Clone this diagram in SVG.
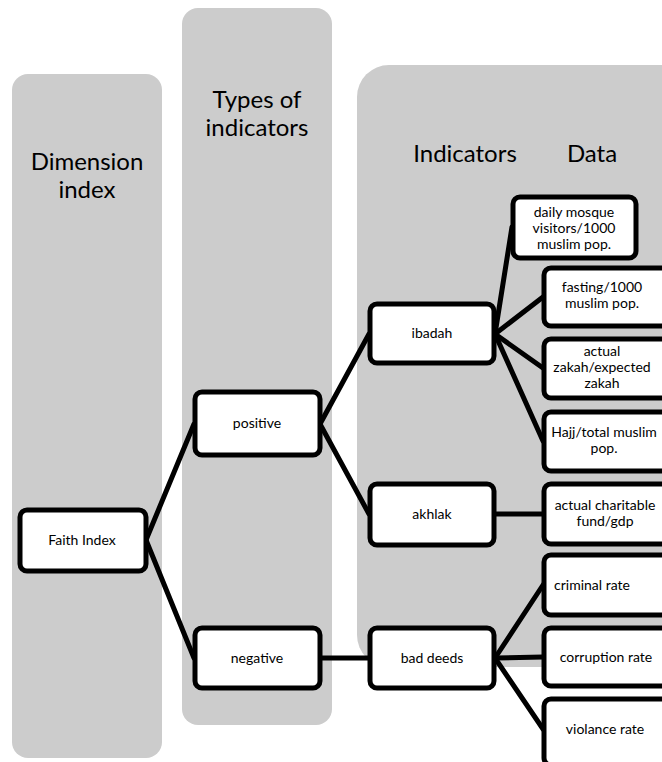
<svg xmlns="http://www.w3.org/2000/svg" width="662" height="762" viewBox="0 0 662 762">
<style>
.col{fill:#cccccc}
.box{fill:#ffffff;stroke:#000000;stroke-width:5}
.big{font-family:Lato,"Liberation Sans",sans-serif;font-size:24px;fill:#000;text-anchor:middle}
.t{font-family:Lato,"Liberation Sans",sans-serif;font-size:14px;fill:#000;text-anchor:middle}
.conn line{stroke:#000;stroke-width:5;stroke-linecap:round}
</style>
<rect width="662" height="762" fill="#ffffff"/>
<g id="col-dimension">
<rect class="col" x="12" y="74" width="150" height="684" rx="16"/>
<text class="big" x="87" y="170">Dimension</text>
<text class="big" x="87" y="198">index</text>
</g>
<g id="col-types">
<rect class="col" x="182" y="8" width="150" height="717" rx="16"/>
<text class="big" x="257" y="108">Types of</text>
<text class="big" x="257" y="136">indicators</text>
</g>
<g id="col-indicators">
<rect class="col" x="357" y="65" width="340" height="602" rx="32"/>
<text class="big" x="465" y="162">Indicators</text>
<text class="big" x="592" y="162">Data</text>
</g>
<g class="conn" id="connectors">
<line x1="146" y1="540" x2="194" y2="424"/>
<line x1="146" y1="540" x2="194" y2="658"/>
<line x1="320" y1="424" x2="369" y2="334"/>
<line x1="320" y1="424" x2="369" y2="514"/>
<line x1="320" y1="658" x2="369" y2="658"/>
<line x1="495" y1="334" x2="512" y2="227"/>
<line x1="495" y1="334" x2="543" y2="297"/>
<line x1="495" y1="334" x2="543" y2="368"/>
<line x1="495" y1="334" x2="543" y2="441"/>
<line x1="495" y1="514" x2="543" y2="514"/>
<line x1="495" y1="658" x2="543" y2="585"/>
<line x1="495" y1="658" x2="543" y2="657"/>
<line x1="495" y1="658" x2="543" y2="729"/>
</g>
<g id="n-faith"><rect class="box" x="20" y="510" width="126" height="61" rx="7"/><text class="t" x="82" y="545">Faith Index</text></g>
<g id="n-positive"><rect class="box" x="195" y="392" width="125" height="63" rx="7"/><text class="t" x="257" y="428">positive</text></g>
<g id="n-negative"><rect class="box" x="195" y="628" width="125" height="60" rx="7"/><text class="t" x="257" y="663">negative</text></g>
<g id="n-ibadah"><rect class="box" x="370" y="304" width="124" height="59" rx="7"/><text class="t" x="432" y="338">ibadah</text></g>
<g id="n-akhlak"><rect class="box" x="370" y="484" width="124" height="61" rx="7"/><text class="t" x="432" y="519">akhlak</text></g>
<g id="n-baddeeds"><rect class="box" x="370" y="628" width="124" height="60" rx="7"/><text class="t" x="432" y="663">bad deeds</text></g>
<g id="n-mosque"><rect class="box" x="513" y="197" width="123" height="61" rx="7"/><text class="t" x="574" y="217">daily mosque</text><text class="t" x="574" y="233">visitors/1000</text><text class="t" x="574" y="249">muslim pop.</text></g>
<g id="n-fasting"><rect class="box" x="544" y="268" width="130" height="58" rx="7"/><text class="t" x="602" y="292">fasting/1000</text><text class="t" x="602" y="308">muslim pop.</text></g>
<g id="n-zakah"><rect class="box" x="544" y="339" width="130" height="59" rx="7"/><text class="t" x="602" y="356">actual</text><text class="t" x="602" y="372">zakah/expected</text><text class="t" x="602" y="388">zakah</text></g>
<g id="n-hajj"><rect class="box" x="544" y="412" width="130" height="59" rx="7"/><text class="t" x="604" y="437">Hajj/total muslim</text><text class="t" x="604" y="453">pop.</text></g>
<g id="n-charitable"><rect class="box" x="544" y="484" width="130" height="60" rx="7"/><text class="t" x="605" y="510">actual charitable</text><text class="t" x="605" y="526">fund/gdp</text></g>
<g id="n-criminal"><rect class="box" x="544" y="555" width="130" height="60" rx="7"/><text class="t" x="592" y="590">criminal rate</text></g>
<g id="n-corruption"><rect class="box" x="544" y="628" width="130" height="58" rx="7"/><text class="t" x="606" y="662">corruption rate</text></g>
<g id="n-violance"><rect class="box" x="544" y="699" width="130" height="66" rx="7"/><text class="t" x="605" y="734">violance rate</text></g>
</svg>
